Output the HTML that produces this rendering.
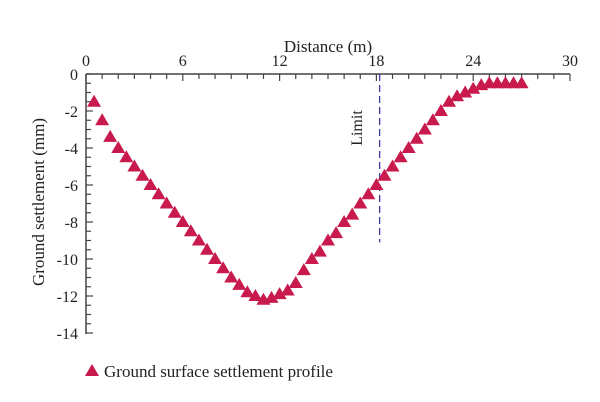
<!DOCTYPE html>
<html><head><meta charset="utf-8"><style>
html,body{margin:0;padding:0;background:#fff;}
svg{display:block;font-family:"Liberation Serif",serif;}
</style></head><body>
<svg id="chart" width="600" height="402" viewBox="0 0 600 402">
<g id="axes"></g><g id="marks"></g>
</svg>
<script>
const xs = [0.5,1,1.5,2,2.5,3,3.5,4,4.5,5,5.5,6,6.5,7,7.5,8,8.5,9,9.5,10,10.5,11,11.5,12,12.5,13,13.5,14,14.5,15,15.5,16,16.5,17,17.5,18,18.5,19,19.5,20,20.5,21,21.5,22,22.5,23,23.5,24,24.5,25,25.5,26,26.5,27];
const ys = [-1.5,-2.5,-3.4,-4.0,-4.5,-5.0,-5.5,-6.0,-6.5,-7.0,-7.5,-8.0,-8.5,-9.0,-9.5,-10.0,-10.5,-11.0,-11.4,-11.8,-12.0,-12.2,-12.1,-11.9,-11.7,-11.3,-10.6,-10.0,-9.6,-9.0,-8.6,-8.0,-7.6,-7.0,-6.5,-6.0,-5.5,-5.0,-4.5,-4.0,-3.5,-3.0,-2.5,-2.0,-1.5,-1.2,-1.0,-0.8,-0.6,-0.5,-0.5,-0.5,-0.5,-0.5];
const xTicks = [0,6,12,18,24,30];
const yTicks = [0,-2,-4,-6,-8,-10,-12,-14];
const limitX = 18.2, limitBottom = -9.1;
const NS="http://www.w3.org/2000/svg";
const X0=86,X1=570,Y0=74,Y1=333;
const sx=v=>X0+(v-0)/30*(X1-X0);
const sy=v=>Y0+(0-v)/14*(Y1-Y0);
function mk(tag,attrs,parent,text){const e=document.createElementNS(NS,tag);for(const k in attrs)e.setAttribute(k,attrs[k]);if(text!==undefined)e.textContent=text;parent.appendChild(e);return e;}
const ax=document.getElementById('axes'), mg=document.getElementById('marks');
let e;
e=mk('line',{x1:X0,y1:Y0,x2:X1,y2:Y0,stroke:'#444','stroke-width':1.5},ax);


e=mk('line',{x1:X0,y1:Y0,x2:X0,y2:Y1+1,stroke:'#444','stroke-width':1.5},ax);


for(let v=0;v<=30;v++){const major=v%6===0;e=mk('line',{x1:sx(v),y1:Y0,x2:sx(v),y2:Y0+(major?7:5),stroke:'#444','stroke-width':1.2},ax);

}
for(let v=0;v>=-14;v-=0.5){const major=Math.abs(v%2)<1e-9;e=mk('line',{x1:X0,y1:sy(v),x2:X0+(major?7:5),y2:sy(v),stroke:'#444','stroke-width':1.2},ax);

}
xTicks.forEach(v=>{e=mk('text',{x:sx(v),y:66,'text-anchor':'middle','font-size':16,fill:'#222'},ax,String(v));

});
yTicks.forEach(v=>{e=mk('text',{x:78,y:sy(v)+6,'text-anchor':'end','font-size':16,fill:'#222'},ax,String(v));

});
e=mk('text',{x:328,y:52,'text-anchor':'middle','font-size':17,fill:'#222'},ax,'Distance (m)');


e=mk('text',{x:0,y:0,'text-anchor':'middle','font-size':17,fill:'#222',transform:'translate(44,202) rotate(-90)'},ax,'Ground settlement (mm)');


e=mk('line',{x1:sx(limitX),y1:Y0,x2:sx(limitX),y2:sy(limitBottom),stroke:'#3a3aa0','stroke-width':1.3,'stroke-dasharray':'7,4'},ax);


e=mk('text',{x:0,y:0,'text-anchor':'middle','font-size':16,fill:'#222',transform:'translate(362,128) rotate(-90)'},ax,'Limit');


function tri(cx,cy,parent){return mk('polygon',{points:`${cx},${cy-7} ${cx-7},${cy+5} ${cx+7},${cy+5}`,fill:'#c81a4c'},parent);}
xs.forEach((x,i)=>{e=tri(sx(x),sy(ys[i]),mg);

});
e=tri(92,371,ax);


e=mk('text',{x:104,y:377,'font-size':17,fill:'#222'},ax,'Ground surface settlement profile');


</script>
</body></html>
